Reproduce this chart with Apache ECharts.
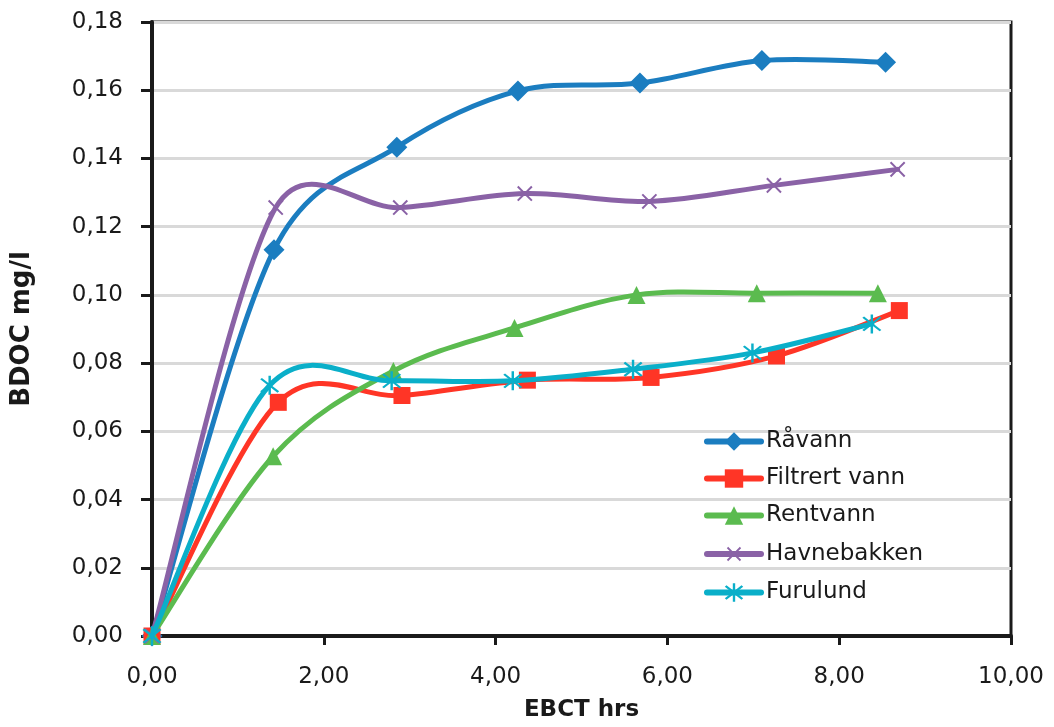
<!DOCTYPE html>
<html>
<head>
<meta charset="utf-8">
<script src="https://cdn.jsdelivr.net/npm/echarts@6/dist/echarts.min.js"></script>
<style>html,body{margin:0;padding:0;background:#fff;}#c{width:1054px;height:727px;}</style>
</head>
<body>
<div id="c"></div>
<script>
const seriesNames = ['Råvann', 'Filtrert vann', 'Rentvann', 'Havnebakken', 'Furulund'];
const ravannX = [0, 1.42, 2.85, 4.26, 5.68, 7.10, 8.54];
const ravannY = [0, 0.1132, 0.1433, 0.1598, 0.1621, 0.1687, 0.1682];
const filtrertX = [0, 1.47, 2.91, 4.37, 5.81, 7.27, 8.70];
const filtrertY = [0, 0.0685, 0.0705, 0.0750, 0.0758, 0.0821, 0.0954];
const rentX = [0, 1.41, 2.81, 4.22, 5.64, 7.04, 8.45];
const rentY = [0, 0.0527, 0.0777, 0.0903, 0.1000, 0.1005, 0.1005];
const havneX = [0, 1.44, 2.89, 4.34, 5.79, 7.24, 8.68];
const havneY = [0, 0.1256, 0.1256, 0.1297, 0.1274, 0.1321, 0.1368];
const furuX = [0, 1.37, 2.79, 4.20, 5.60, 6.99, 8.38];
const furuY = [0, 0.0735, 0.0748, 0.0748, 0.0782, 0.0830, 0.0915];
const yTicks = [0, 0.02, 0.04, 0.06, 0.08, 0.10, 0.12, 0.14, 0.16, 0.18];
const xTicks = [0, 2, 4, 6, 8, 10];

const xsAll = [ravannX, filtrertX, rentX, havneX, furuX];
const ysAll = [ravannY, filtrertY, rentY, havneY, furuY];
const colors = ['#1b7dc0', '#ff3526', '#5bbb4f', '#8a62a6', '#0aafc9'];
const fmt = v => v.toFixed(2).replace('.', ',');

const xSym = 'path://M-1,-10 L1,-10 L1,-1 L10,-1 L10,1 L1,1 L1,10 L-1,10 L-1,1 L-10,1 L-10,-1 L-1,-1 Z';
const starSym = 'path://M-1,-10 L1,-10 L1,10 L-1,10 Z M-7.77,-6.36 L-6.36,-7.77 L7.77,6.36 L6.36,7.77 Z M6.36,-7.77 L7.77,-6.36 L-6.36,7.77 L-7.77,6.36 Z';
const symbols = ['diamond', 'rect', 'triangle', xSym, starSym];
const sizes = [21, 17, 18, 20, 19];
const rotates = [0, 0, 0, 45, 0];

// Excel-like smoothed curve drawn in pixel space from the data via api.coord
function curveSeries(i) {
  const xs = xsAll[i], ys = ysAll[i];
  return {
    type: 'custom', name: '_curve' + i, silent: true, z: 2 + i * 2,
    data: xs.map((x, k) => [x, ys[k]]), encode: { x: 0, y: 1 },
    renderItem: function (params, api) {
      if (params.dataIndex !== 0) return null;
      const p = xs.map((x, k) => api.coord([x, ys[k]]));
      const n = p.length;
      let d = 'M' + p[0][0] + ',' + p[0][1];
      for (let k = 0; k < n - 1; k++) {
        const P0 = p[Math.max(k - 1, 0)], P1 = p[k], P2 = p[k + 1], P3 = p[Math.min(k + 2, n - 1)];
        const seg = Math.hypot(P2[0] - P1[0], P2[1] - P1[1]);
        let a1 = [(P2[0] - P0[0]) / 6, (P2[1] - P0[1]) / 6];
        let a2 = [(P3[0] - P1[0]) / 6, (P3[1] - P1[1]) / 6];
        const l1 = Math.hypot(a1[0], a1[1]), l2 = Math.hypot(a2[0], a2[1]);
        if (l1 > 0.5 * seg) { a1 = [a1[0] * 0.5 * seg / l1, a1[1] * 0.5 * seg / l1]; }
        if (l2 > 0.5 * seg) { a2 = [a2[0] * 0.5 * seg / l2, a2[1] * 0.5 * seg / l2]; }
        d += ' C' + (P1[0] + a1[0]) + ',' + (P1[1] + a1[1]) + ' ' + (P2[0] - a2[0]) + ',' + (P2[1] - a2[1]) + ' ' + P2[0] + ',' + P2[1];
      }
      return {
        type: 'path', shape: { pathData: d },
        style: { stroke: colors[i], lineWidth: 5, fill: 'none', lineCap: 'round', lineJoin: 'round' }
      };
    }
  };
}

const chart = echarts.init(document.getElementById('c'));
chart.setOption({
  animation: false,
  backgroundColor: '#fff',
  textStyle: { fontFamily: 'DejaVu Sans' },
  grid: { left: 152, right: 43, top: 22, bottom: 86, show: true, borderColor: '#1a1a1a', borderWidth: 3, backgroundColor: 'transparent' },
  legend: {
    orient: 'vertical', left: 699, top: 425, itemWidth: 54, itemHeight: 23, itemGap: 14,
    data: seriesNames.map((n, i) => ({
      name: n,
      lineStyle: { color: colors[i], width: 6, opacity: 1, cap: 'round' },
      itemStyle: { color: colors[i] }
    })),
    textStyle: { fontSize: 23, color: '#1a1a1a', lineHeight: 23, fontFamily: 'DejaVu Sans' }
  },
  xAxis: {
    type: 'value', min: 0, max: 10, interval: 2,
    name: 'EBCT hrs', nameLocation: 'middle', nameGap: 63,
    nameTextStyle: { fontSize: 23, fontWeight: 'bold', color: '#1a1a1a' },
    axisLine: { show: true, onZero: false, lineStyle: { color: '#1a1a1a', width: 4 } },
    axisTick: { show: true, length: 9, lineStyle: { color: '#1a1a1a', width: 3 } },
    axisLabel: { fontSize: 23, color: '#1a1a1a', margin: 30, formatter: fmt },
    splitLine: { show: false }
  },
  yAxis: {
    type: 'value', min: 0, max: 0.18, interval: 0.02,
    name: 'BDOC mg/l', nameLocation: 'middle', nameGap: 117,
    nameTextStyle: { fontSize: 26, fontWeight: 'bold', color: '#1a1a1a' },
    axisLine: { show: true, lineStyle: { color: '#1a1a1a', width: 4 } },
    axisTick: { show: true, length: 11, lineStyle: { color: '#1a1a1a', width: 3 } },
    axisLabel: { fontSize: 23, color: '#1a1a1a', margin: 29, formatter: fmt },
    splitLine: { show: true, lineStyle: { color: '#d9d9d9', width: 3 } }
  },
  series: seriesNames.map((n, i) => curveSeries(i)).concat(seriesNames.map((n, i) => ({
    name: n, type: 'line', data: xsAll[i].map((x, k) => [x, ysAll[i][k]]),
    symbol: symbols[i], symbolSize: sizes[i], symbolRotate: rotates[i],
    showAllSymbol: true,
    lineStyle: { color: colors[i], width: 0, opacity: 0 },
    itemStyle: { color: colors[i] },
    z: 3 + i * 2
  })))
});
</script>
</body>
</html>
